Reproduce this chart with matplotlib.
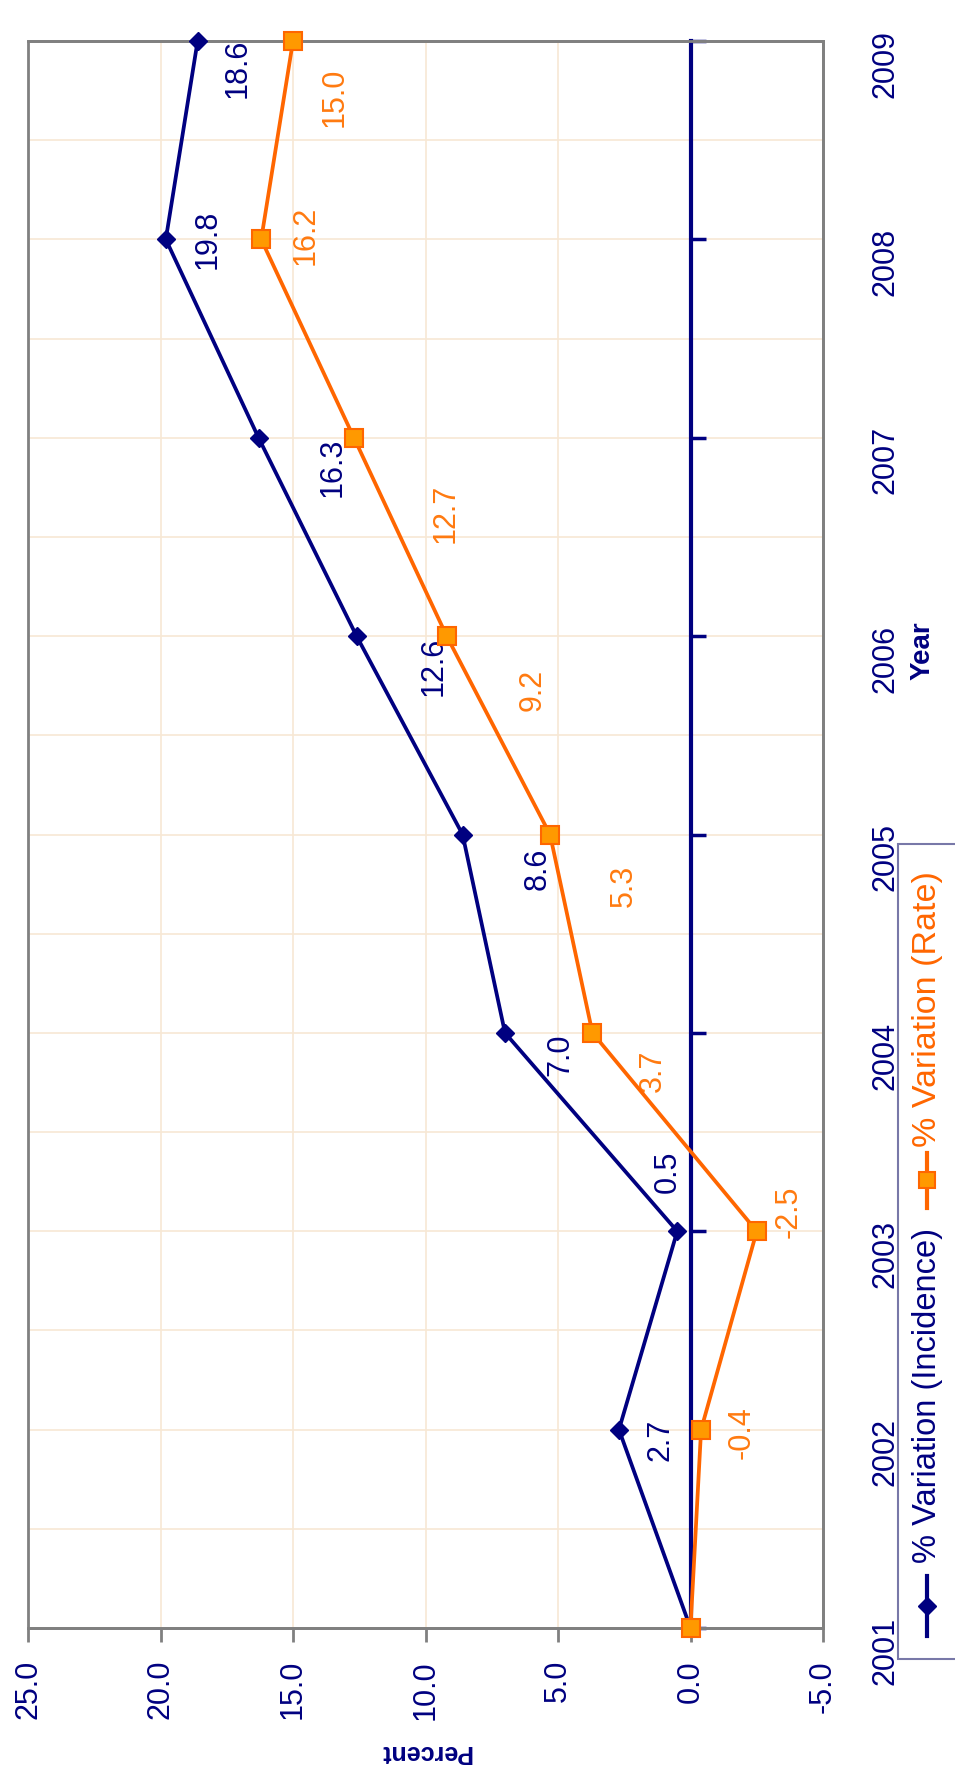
import matplotlib
matplotlib.use("Agg")
import matplotlib.pyplot as plt
from matplotlib.lines import Line2D
from matplotlib.patches import Rectangle
import numpy as np

plt.rcParams['font.family'] = ['Liberation Sans', 'DejaVu Sans']

# ---------------- data ----------------
years = [2001, 2002, 2003, 2004, 2005, 2006, 2007, 2008, 2009]
incidence = [0.0, 2.7, 0.5, 7.0, 8.6, 12.6, 16.3, 19.8, 18.6]
rate = [0.0, -0.4, -2.5, 3.7, 5.3, 9.2, 12.7, 16.2, 15.0]
incidence_labels = ['', '2.7', '0.5', '7.0', '8.6', '12.6', '16.3', '19.8', '18.6']
rate_labels = ['', '-0.4', '-2.5', '3.7', '5.3', '9.2', '12.7', '16.2', '15.0']
pct_ticks = [25.0, 20.0, 15.0, 10.0, 5.0, 0.0, -5.0]
series_names = ['% Variation (Incidence)', '% Variation (Rate)']

# ---------------- styles ----------------
W, H = 955, 1776
NAVY = '#000080'
ORANGE = '#FF6600'
ORANGE_FILL = '#FF9900'
LABEL_ORANGE = '#FF7A10'
GRID = '#F7E8D4'
FRAME = '#808080'
FS = 22

# label offsets in pixels (dx right, dy down in image)
inc_off = [(0, 0), (42, 10), (-10, -59), (55, 22), (75, 34), (77, 30), (74, 30), (42, 0), (40, 27)]
rate_off = [(0, 0), (41, 3), (32, -19), (60, 38), (74, 51), (86, 54), (92, 76), (44, -4), (42, 56)]


def fx(x):
    return x / W


def fy(y):
    return 1 - y / H


fig = plt.figure(figsize=(W / 100, H / 100), dpi=100)
fig.patch.set_facecolor('white')
ax = fig.add_axes([fx(28), fy(1628), (823 - 28) / W, (1628 - 41) / H])

ax.set_xlim(25, -5)
ax.set_ylim(2001, 2009)

ax.tick_params(axis='x', which='major', direction='out', length=10, width=2,
               color=FRAME, pad=13, labelcolor=NAVY, labelsize=FS, labelrotation=90)
ax.tick_params(axis='y', which='major', direction='in', length=11, width=2.5,
               color=NAVY, left=True, right=False, labelleft=False, labelright=True,
               pad=34.5, labelcolor=NAVY, labelsize=FS, labelrotation=90)
ax.tick_params(axis='y', which='minor', length=0, left=False, right=False)

ax.set_xticks(pct_ticks, labels=[f'{v:.1f}' for v in pct_ticks])
ax.set_yticks(years, labels=[str(y) for y in years])
ax.set_yticks(np.arange(2001.5, 2009, 1.0), minor=True)
for t in ax.xaxis.get_major_ticks():
    t.label1.set_ha('center')
    t.label1.set_va('top')
for t in ax.yaxis.get_major_ticks():
    t.label2.set_ha('center')
    t.label2.set_va('center')

# grid
ax.set_axisbelow(True)
ax.grid(True, axis='x', which='major', color=GRID, lw=1.2)
ax.grid(True, axis='y', which='both', color=GRID, lw=1.2)

# frame
for s in ['top', 'right', 'bottom']:
    ax.spines[s].set_color(FRAME)
    ax.spines[s].set_linewidth(2)
ax.add_patch(Rectangle((0, 0), 1, 1, transform=ax.transAxes, fill=False,
                       edgecolor=FRAME, lw=2, zorder=2.4, clip_on=False))

# zero (category) axis line
ax.spines['left'].set_position(('data', 0))
ax.spines['left'].set_color(NAVY)
ax.spines['left'].set_linewidth(3)

# series
ax.plot(incidence, years, color=NAVY, lw=2.7, marker='D', ms=9,
        mfc=NAVY, mec=NAVY, zorder=4, clip_on=False)
ax.plot(rate, years, color=ORANGE, lw=2.7, marker='s', ms=12.5,
        mfc=ORANGE_FILL, mec=ORANGE, mew=1.5, zorder=5, clip_on=False)

for v, yr, lab, (dx, dy) in zip(incidence, years, incidence_labels, inc_off):
    if lab:
        ax.annotate(lab, (v, yr), xytext=(dx, -dy), textcoords='offset pixels',
                    rotation=90, ha='center', va='center', color=NAVY, fontsize=FS,
                    annotation_clip=False)
for v, yr, lab, (dx, dy) in zip(rate, years, rate_labels, rate_off):
    if lab:
        ax.annotate(lab, (v, yr), xytext=(dx, -dy), textcoords='offset pixels',
                    rotation=90, ha='center', va='center', color=LABEL_ORANGE, fontsize=FS,
                    annotation_clip=False)

# axis labels
ax.set_xlabel('Percent', rotation=180, fontsize=18, fontweight='bold', color=NAVY,
              va='center', ha='center')
ax.xaxis.set_label_coords((425 - 28) / 795, (fy(1752) - (148 / H)) / (1587 / H))
ax.yaxis.set_label_position('right')
ax.set_ylabel('Year', rotation=90, fontsize=20, fontweight='bold', color=NAVY,
              va='center', ha='center')
ax.yaxis.set_label_coords((923 - 28) / 795, (fy(651) - (148 / H)) / (1587 / H))

# legend (drawn rotated like the rest of the chart)
fig.add_artist(Rectangle((fx(898), fy(1659)), (980 - 898) / W, (1659 - 844) / H,
                         transform=fig.transFigure, facecolor='white',
                         edgecolor='#7878A8', lw=1.5, clip_on=False))
lx = fx(927)
fig.add_artist(Line2D([lx, lx], [fy(1636), fy(1576)], transform=fig.transFigure,
                      color=NAVY, lw=3))
fig.add_artist(Line2D([lx], [fy(1606)], transform=fig.transFigure, color=NAVY,
                      marker='D', ms=9, mfc=NAVY, mec=NAVY, lw=0))
fig.text(lx, fy(1563), series_names[0], rotation=90, ha='center', va='bottom',
         color=NAVY, fontsize=23.5)
fig.add_artist(Line2D([lx, lx], [fy(1208), fy(1153)], transform=fig.transFigure,
                      color=ORANGE, lw=3))
fig.add_artist(Line2D([lx], [fy(1180)], transform=fig.transFigure, color=ORANGE,
                      marker='s', ms=12, mfc=ORANGE_FILL, mec=ORANGE, mew=1.5, lw=0))
fig.text(lx, fy(1147), series_names[1], rotation=90, ha='center', va='bottom',
         color=ORANGE, fontsize=24.5)

fig.savefig('out.png', dpi=100, facecolor='white')
